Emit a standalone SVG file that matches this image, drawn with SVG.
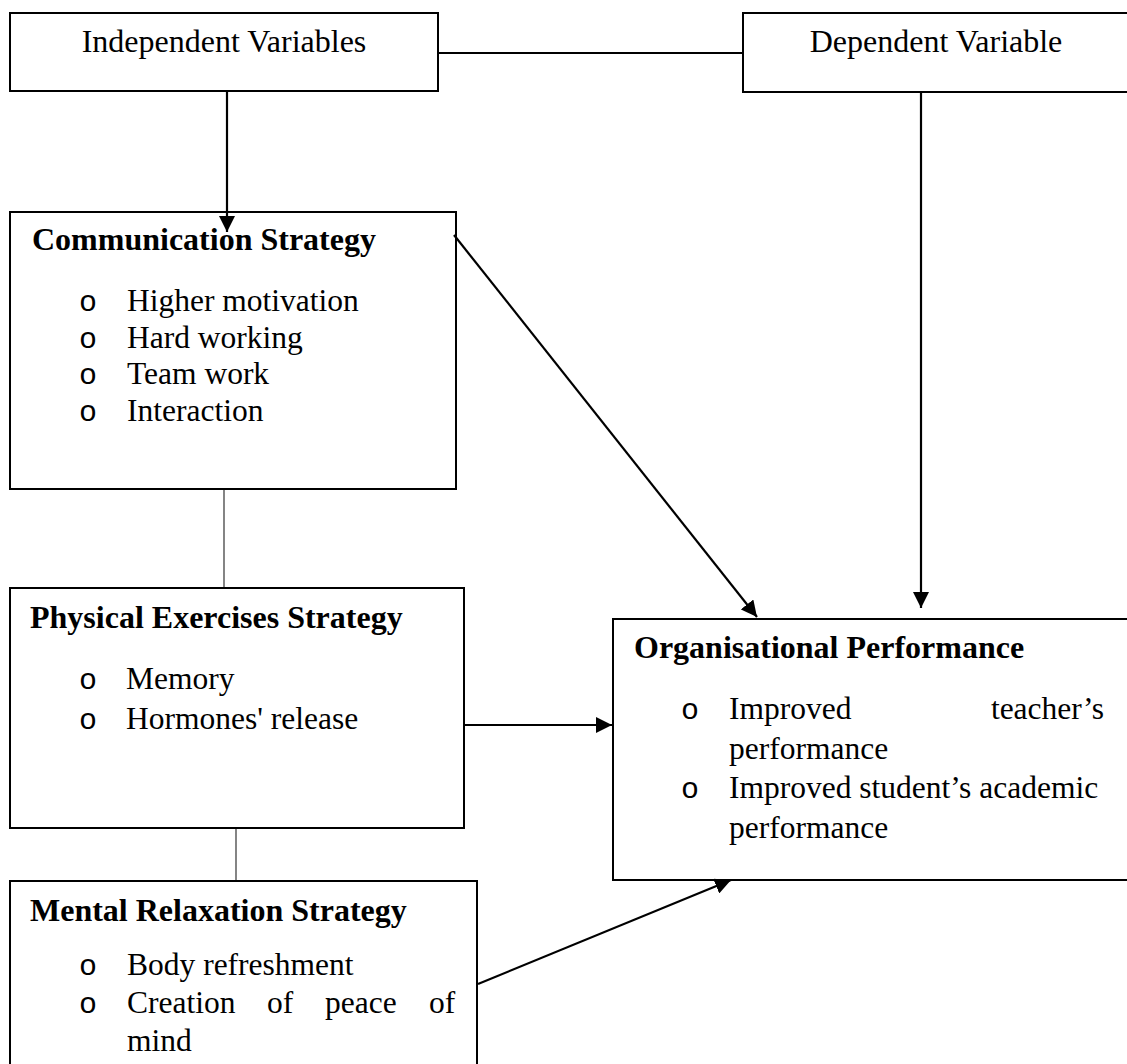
<svg xmlns="http://www.w3.org/2000/svg" width="1127" height="1064" viewBox="0 0 1127 1064">
<style>
.box{fill:#fff;stroke:#000;stroke-width:2}
.t{font-family:"Liberation Serif","Times New Roman",serif;font-size:32px;fill:#000}
.h{font-family:"Liberation Serif","Times New Roman",serif;font-size:32px;font-weight:bold;fill:#000}
.i{font-family:"Liberation Serif","Times New Roman",serif;font-size:31.5px;fill:#000}
.b{font-family:"Liberation Mono","Courier New",monospace;font-size:30px;fill:#000;text-anchor:middle}
.c{stroke:#000;stroke-width:2.2;fill:none}
.thin{stroke:#333;stroke-width:1.2;fill:none}
</style>
<defs>
<marker id="ah" viewBox="0 0 10 10" refX="10" refY="5" markerWidth="16" markerHeight="16" markerUnits="userSpaceOnUse" orient="auto">
<path d="M0,0 L10,5 L0,10 Z" fill="#000"/>
</marker>
</defs>
<g id="independent">
<rect class="box" x="10" y="13" width="428" height="78"/>
<text class="t" x="224" y="52" text-anchor="middle">Independent Variables</text>
</g>
<g id="dependent">
<rect class="box" x="743" y="13" width="400" height="79"/>
<text class="t" x="936" y="52" text-anchor="middle">Dependent Variable</text>
</g>
<g id="communication">
<rect class="box" x="10" y="212" width="446" height="277"/>
<text class="h" x="32" y="250">Communication Strategy</text>
<text class="b" x="88" y="311">o</text><text class="i" x="127" y="311">Higher motivation</text>
<text class="b" x="88" y="348">o</text><text class="i" x="127" y="348">Hard working</text>
<text class="b" x="88" y="384">o</text><text class="i" x="127" y="384">Team work</text>
<text class="b" x="88" y="421">o</text><text class="i" x="127" y="421">Interaction</text>
</g>
<g id="physical">
<rect class="box" x="10" y="588" width="454" height="240"/>
<text class="h" x="30" y="628">Physical Exercises Strategy</text>
<text class="b" x="88" y="689">o</text><text class="i" x="126" y="689">Memory</text>
<text class="b" x="88" y="729">o</text><text class="i" x="126" y="729">Hormones' release</text>
</g>
<g id="mental">
<rect class="box" x="10" y="881" width="467" height="200"/>
<text class="h" x="30" y="921">Mental Relaxation Strategy</text>
<text class="b" x="88" y="975">o</text><text class="i" x="127" y="975">Body refreshment</text>
<text class="b" x="88" y="1013">o</text><text class="i" y="1013"><tspan x="127">Creation </tspan><tspan x="267">of </tspan><tspan x="325">peace </tspan><tspan x="429">of</tspan></text>
<text class="i" x="127" y="1051">mind</text>
</g>
<g id="organisational">
<rect class="box" x="613" y="619" width="530" height="261"/>
<text class="h" x="634" y="658">Organisational Performance</text>
<text class="b" x="690" y="719">o</text><text class="i" y="719"><tspan x="729">Improved </tspan><tspan x="1104" text-anchor="end">teacher’s</tspan></text>
<text class="i" x="729" y="759">performance</text>
<text class="b" x="690" y="798">o</text><text class="i" x="729" y="798">Improved student’s academic</text>
<text class="i" x="729" y="838">performance</text>
</g>
<g id="connectors">
<line class="c" x1="438" y1="53" x2="743" y2="53"/>
<line class="c" x1="227" y1="92" x2="227" y2="232" marker-end="url(#ah)"/>
<line class="c" x1="921" y1="93" x2="921" y2="608" marker-end="url(#ah)"/>
<line class="c" x1="454" y1="235" x2="757" y2="617" marker-end="url(#ah)"/>
<line class="c" x1="465" y1="725" x2="612" y2="725" marker-end="url(#ah)"/>
<line class="c" x1="478" y1="984" x2="731" y2="880" marker-end="url(#ah)"/>
<line class="thin" x1="224" y1="490" x2="224" y2="587"/>
<line class="thin" x1="236" y1="829" x2="236" y2="880"/>
</g>
</svg>
